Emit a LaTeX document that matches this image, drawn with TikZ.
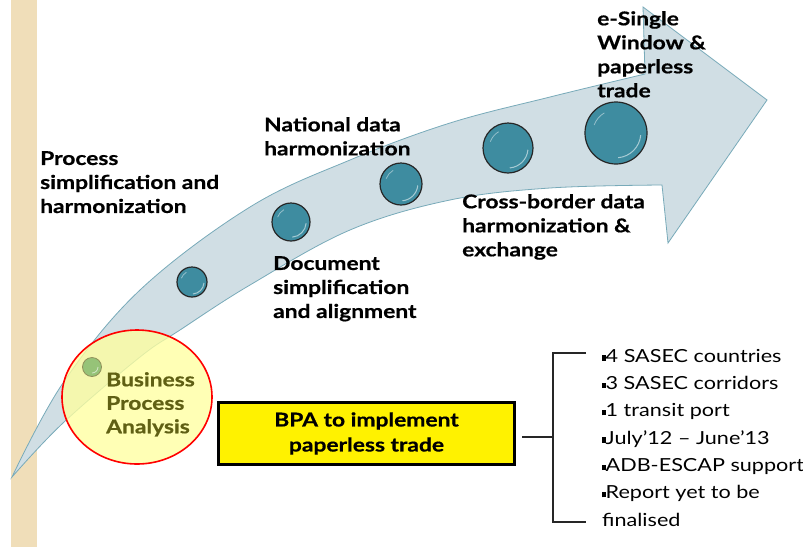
\documentclass[tikz,border=0pt]{standalone}
\usepackage{fontspec}
\setmainfont{Lato}[FakeStretch=1.2, BoldFeatures={FakeBold=0.6}]
\usetikzlibrary{shapes.geometric}
\definecolor{stripe}{RGB}{240,222,185}
\definecolor{arrowfill}{RGB}{208,222,228}
\definecolor{arrowline}{RGB}{120,170,185}
\definecolor{tealball}{RGB}{62,140,160}
\definecolor{greenball}{RGB}{150,195,120}
\definecolor{circfill}{RGB}{255,255,160}
\definecolor{olive}{RGB}{96,96,20}
\newcommand{\bul}{\rule[1.5pt]{3.5pt}{5.5pt}}
\begin{document}
\begin{tikzpicture}[x=1pt,y=-1pt,
  lab/.style={font=\fontsize{19}{24}\selectfont\bfseries, align=left, anchor=north west, inner sep=0pt},
  ballstyle/.style={circle, draw=black!85, line width=1.2pt, fill=tealball, inner sep=0pt},
  brk/.style={line width=2pt, black!85}]
\useasboundingbox (0,0) rectangle (803,547);
\fill[stripe] (11,0) rectangle (37,547);
% curved arrow
\filldraw[fill=arrowfill, draw=arrowline, line width=0.8pt]
  plot[smooth, tension=0.6] coordinates {(12,477) (63,383) (140,290) (250,207) (350,160) (450,123) (550,97) (645,74)}
  -- (643,7) -- (767,100) -- (668,243) -- (662,185)
  -- plot[smooth, tension=0.6] coordinates {(662,185) (550,188) (450,200) (350,230) (250,285) (180,330) (140,357) (63,423) (12,477)}
  -- cycle;
% red circle
\node[ellipse, draw=red, line width=1.6pt, fill=circfill, fill opacity=0.78, minimum width=150pt, minimum height=134pt, inner sep=0pt] (bpacirc) at (137,397) {};
\node[circle, draw=olive!70, line width=0.8pt, fill=greenball, minimum size=19pt, inner sep=0pt] (g0) at (92,367) {};
\draw[white, opacity=0.6, line width=0.8pt] (92,367) ++(0:6) arc[start angle=0, end angle=90, radius=6];
% teal balls
\foreach \n/\x/\y/\r in {b1/192/282/15, b2/291/222/19, b3/401/184/21, b4/508/148/25, b5/616/133/31}{
  \node[ballstyle, minimum size=2*\r pt] (\n) at (\x,\y) {};
  \draw[white, opacity=0.55, line width=1pt] (\x,\y) ++(5:{0.8*\r}) arc[start angle=5, end angle=85, radius={0.8*\r}];
  \draw[white, opacity=0.45, line width=0.8pt] (\x,\y) ++(200:{0.75*\r}) arc[start angle=200, end angle=240, radius={0.75*\r}];
}
% labels
\node[lab] (l1) at (40,151) {Process\\simplification and\\harmonization};
\node[lab] (l2) at (264,117) {National data\\harmonization};
\node[lab] (l3) at (273,256) {Document\\simplification\\and alignment};
\node[lab] (l4) at (462,194) {Cross-border data\\harmonization \&\\exchange};
\node[lab] (l5) at (597,11) {e-Single\\Window \&\\paperless\\trade};
\node[lab, text=olive, font=\fontsize{19}{23.5}\selectfont\bfseries] (l0) at (106,372) {Business\\Process\\Analysis};
% BPA box
\node[draw=black, line width=3pt, fill=yellow, minimum width=296pt, minimum height=62pt, align=center, font=\fontsize{19}{25}\selectfont\bfseries] (bpa) at (366.5,433.5) {BPA to implement\\paperless trade};
% bracket
\coordinate (bm) at (553,437);
\coordinate (bt) at (553,353);
\coordinate (bb) at (553,522);
\coordinate (lt) at (586,353);
\coordinate (lb) at (586,522);
\draw[brk] ([xshift=6pt]bpa.east |- bm) -- (bm);
\draw[brk] (lt) -- (bt) -- (bb) -- (lb);
% list
\node[anchor=north west, inner sep=0pt, align=left, font=\fontsize{18}{27.3}\selectfont] (list) at (602,349)
 {\bul4 SASEC countries\\\bul3 SASEC corridors\\\bul 1 transit port\\\bul July’12 – June’13\\\bul ADB-ESCAP support\\\bul Report yet to be\\finalised};
\end{tikzpicture}
\end{document}
